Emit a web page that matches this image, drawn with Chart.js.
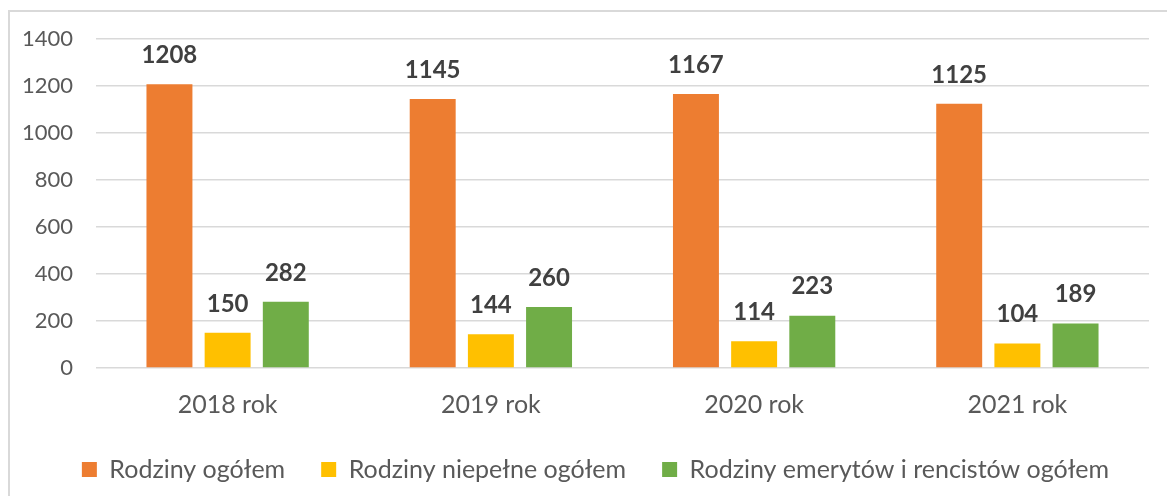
<!DOCTYPE html>
<html>
<head>
<meta charset="utf-8">
<script src="https://cdn.jsdelivr.net/npm/chart.js@4.4.1/dist/chart.umd.min.js"></script>
<style>
  html, body { margin: 0; padding: 0; background: #fff; overflow: hidden; width: 1167px; height: 496px; }
  #frame { position: absolute; left: 8px; top: 10px; width: 1178px; height: 520px;
           box-sizing: border-box; border: 2px solid #d9d9d9; }
  #wrap { position: absolute; left: 10px; top: 3px; width: 1174px; height: 493px; }
</style>
</head>
<body>
<div id="frame"></div>
<div id="wrap"><canvas id="chart"></canvas></div>
<script>
'use strict';

// data
const years = ['2018 rok', '2019 rok', '2020 rok', '2021 rok'];
const rodzinyOgolem = [1208, 1145, 1167, 1125];
const rodzinyNiepelne = [150, 144, 114, 104];
const rodzinyEmerytow = [282, 260, 223, 189];
const yTicks = [0, 200, 400, 600, 800, 1000, 1200, 1400];

const seriesNames = ['Rodziny ogółem', 'Rodziny niepełne ogółem', 'Rodziny emerytów i rencistów ogółem'];
const seriesColors = ['#ED7D31', '#FFC000', '#70AD47'];

const FONT = 'Lato, "Open Sans", sans-serif';

// draws the value above each bar
const valueLabels = {
  id: 'valueLabels',
  afterDatasetsDraw(chart) {
    const ctx = chart.ctx;
    ctx.save();
    ctx.font = 'bold 24px ' + FONT;
    ctx.fillStyle = '#404040';
    ctx.textAlign = 'center';
    ctx.textBaseline = 'middle';
    chart.data.datasets.forEach((ds, i) => {
      chart.getDatasetMeta(i).data.forEach((bar, j) => {
        ctx.fillText(String(ds.data[j]), bar.x, bar.y - 29);
      });
    });
    ctx.restore();
  }
};

// the legend sits centred on the whole frame, a bit right of the plot centre
const legendShift = {
  id: 'legendShift',
  afterLayout(chart) {
    if (!chart.legend) return;
    chart.legend.left += 16;
    chart.legend.right += 16;
  }
};

const chart = new Chart(document.getElementById('chart'), {
  type: 'bar',
  data: {
    labels: years,
    datasets: [rodzinyOgolem, rodzinyNiepelne, rodzinyEmerytow].map((d, i) => ({
      label: seriesNames[i],
      data: d,
      backgroundColor: seriesColors[i],
      categoryPercentage: 0.663,
      barPercentage: 0.79
    }))
  },
  options: {
    responsive: true,
    maintainAspectRatio: false,
    animation: false,
    layout: { padding: { top: 10, right: 35, bottom: 12, left: 0 } },
    scales: {
      x: {
        grid: { display: false },
        border: { display: false },
        ticks: { color: '#595959', font: { family: FONT, size: 25 }, padding: 14 },
        afterFit: s => { s.height = 53; }
      },
      y: {
        min: 0,
        max: 1400,
        afterBuildTicks: s => { s.ticks = yTicks.map(v => ({ value: v })); },
        grid: { color: '#d9d9d9', lineWidth: 1.5, drawTicks: false },
        border: { display: false },
        ticks: {
          color: '#595959',
          font: { family: FONT, size: 22 },
          padding: 23,
          callback: v => String(v)
        },
        afterFit: s => { s.width = 86; }
      }
    },
    plugins: {
      legend: {
        position: 'bottom',
        labels: {
          color: '#595959',
          font: { family: FONT, size: 25 },
          boxWidth: 15,
          boxHeight: 15,
          padding: 36
        }
      },
      tooltip: { enabled: false }
    }
  },
  plugins: [valueLabels, legendShift]
});

// fixed legend height, the wide item gaps would make it too tall
const legendFit = chart.legend.fit;
chart.legend.fit = function () {
  legendFit.call(this);
  this.height = 63;
};
chart.update();
</script>
</body>
</html>
